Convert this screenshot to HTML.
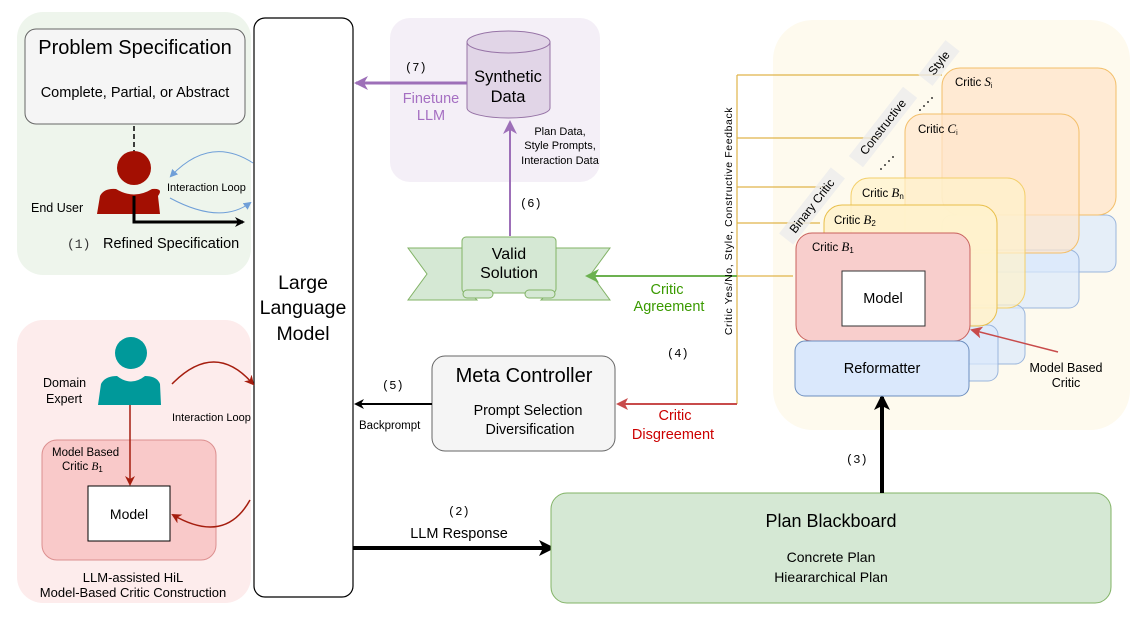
<!DOCTYPE html>
<html><head><meta charset="utf-8"><style>
html,body{margin:0;padding:0;background:#fff;}
svg{display:block;font-family:"Liberation Sans",sans-serif;}
.m{font-family:"Liberation Mono",monospace;}
</style></head><body>
<svg width="1138" height="637" viewBox="0 0 1138 637" xmlns="http://www.w3.org/2000/svg">
<defs>
<marker id="ab" markerWidth="10" markerHeight="10" refX="8" refY="5" orient="auto" markerUnits="userSpaceOnUse"><path d="M0,0 L10,5 L0,10 L3,5 Z" fill="#000"/></marker>
<marker id="abL" markerWidth="16" markerHeight="16" refX="13" refY="8" orient="auto" markerUnits="userSpaceOnUse"><path d="M0,0 L16,8 L0,16 L4,8 Z" fill="#000"/></marker>
<marker id="ap" markerWidth="14" markerHeight="14" refX="12" refY="7" orient="auto" markerUnits="userSpaceOnUse"><path d="M0,0 L14,7 L0,14 L4,7 Z" fill="#9d6fb8"/></marker>
<marker id="ag" markerWidth="14" markerHeight="14" refX="12" refY="7" orient="auto" markerUnits="userSpaceOnUse"><path d="M0,0 L14,7 L0,14 L4,7 Z" fill="#6cb150"/></marker>
<marker id="ar" markerWidth="12" markerHeight="12" refX="10" refY="6" orient="auto" markerUnits="userSpaceOnUse"><path d="M0,0 L12,6 L0,12 L3,6 Z" fill="#c84b4b"/></marker>
<marker id="ard" markerWidth="10" markerHeight="10" refX="8" refY="5" orient="auto" markerUnits="userSpaceOnUse"><path d="M0,0 L10,5 L0,10 L3,5 Z" fill="#a51d0e"/></marker>
<marker id="abl" markerWidth="8" markerHeight="8" refX="6" refY="4" orient="auto" markerUnits="userSpaceOnUse"><path d="M0,0 L8,4 L0,8 Z" fill="#6f9fd8"/></marker>
</defs>

<!-- panels -->
<rect x="17" y="12" width="234" height="263" rx="26" fill="#eef5ec"/>
<rect x="17" y="320" width="234" height="283" rx="26" fill="#fdecec"/>
<rect x="390" y="18" width="210" height="164" rx="20" fill="#f4eff7"/>
<rect x="773" y="20" width="357" height="410" rx="40" fill="#fefaee"/>

<!-- problem specification -->
<rect x="25" y="29" width="220" height="95" rx="11" fill="#f5f5f5" stroke="#666"/>
<text x="135" y="54" font-size="20" text-anchor="middle">Problem Specification</text>
<text x="135" y="97" font-size="14.5" text-anchor="middle">Complete, Partial, or Abstract</text>
<line x1="134" y1="126" x2="134" y2="152" stroke="#000" stroke-dasharray="5,3" stroke-width="1.5"/>
<!-- end user -->
<circle cx="134" cy="168" r="17" fill="#a30f02"/>
<path d="M97,214 L100,196 Q104,188 116,189 Q134,200 152,189 Q164,188 158,196 L160,214 Z" fill="#a30f02"/>
<path d="M134,196 L134,222 L243,222" fill="none" stroke="#000" stroke-width="3" marker-end="url(#ab)"/>
<text x="31" y="212" font-size="12.5">End User</text>
<text x="167" y="191" font-size="11">Interaction Loop</text>
<path d="M253,163 Q210,135 171,176" fill="none" stroke="#6f9fd8" marker-end="url(#abl)"/>
<path d="M170,198 Q220,225 250,203" fill="none" stroke="#6f9fd8" marker-end="url(#abl)"/>
<text x="67" y="248" font-size="13" class="m" fill="#333">(1)</text>
<text x="103" y="248" font-size="14.5">Refined Specification</text>

<!-- LLM -->
<rect x="254" y="18" width="99" height="579" rx="11" fill="#fff" stroke="#000" stroke-width="1.2"/>
<text x="303" y="289" font-size="19.5" text-anchor="middle">Large</text>
<text x="303" y="314" font-size="19.5" text-anchor="middle">Language</text>
<text x="303" y="340" font-size="19.5" text-anchor="middle">Model</text>

<!-- domain expert -->
<circle cx="131" cy="353" r="16" fill="#00999a"/>
<path d="M98,405 L101,384 Q105,376 117,376 Q131,387 145,376 Q157,376 160,384 L161,405 Z" fill="#00999a"/>
<text x="43" y="387" font-size="12.5">Domain</text>
<text x="46" y="403" font-size="12.5">Expert</text>
<rect x="42" y="440" width="174" height="120" rx="15" fill="#f9c9c9" stroke="#dc8f8f"/>
<text x="52" y="456" font-size="11.5">Model Based</text>
<text x="62" y="470" font-size="11.5">Critic <tspan font-family="Liberation Serif" font-style="italic">B</tspan><tspan font-size="8" dy="2">1</tspan></text>
<line x1="130" y1="405" x2="130" y2="484" stroke="#a51d0e" stroke-width="1.5" marker-end="url(#ard)"/>
<rect x="88" y="486" width="82" height="55" fill="#fff" stroke="#000"/>
<text x="129" y="519" font-size="14" text-anchor="middle">Model</text>
<path d="M172,384 Q215,340 253,384" fill="none" stroke="#a51d0e" stroke-width="1.5" marker-end="url(#ard)"/>
<text x="172" y="421" font-size="11">Interaction Loop</text>
<path d="M250,500 Q225,545 173,515" fill="none" stroke="#a51d0e" stroke-width="1.5" marker-end="url(#ard)"/>
<text x="133" y="582" font-size="13" text-anchor="middle">LLM-assisted HiL</text>
<text x="133" y="597" font-size="13" text-anchor="middle">Model-Based Critic Construction</text>

<!-- synthetic data -->
<path d="M467,42 L467,108 A41.5,10 0 0 0 550,108 L550,42" fill="#e1d5e7" stroke="#9673a6"/>
<ellipse cx="508.5" cy="42" rx="41.5" ry="11" fill="#e1d5e7" stroke="#9673a6"/>
<text x="508" y="82" font-size="16.5" text-anchor="middle">Synthetic</text>
<text x="508" y="102" font-size="16.5" text-anchor="middle">Data</text>
<line x1="467" y1="83" x2="356" y2="83" stroke="#9d6fb8" stroke-width="3" marker-end="url(#ap)"/>
<text x="405" y="71" font-size="12" class="m">(7)</text>
<text x="431" y="103" font-size="14.5" fill="#a56fc2" text-anchor="middle">Finetune</text>
<text x="431" y="120" font-size="14.5" fill="#a56fc2" text-anchor="middle">LLM</text>
<line x1="510" y1="236" x2="510" y2="122" stroke="#9d6fb8" stroke-width="2" marker-end="url(#ap)"/>
<text x="560" y="135" font-size="11" text-anchor="middle">Plan Data,</text>
<text x="560" y="149" font-size="11" text-anchor="middle">Style Prompts,</text>
<text x="560" y="164" font-size="11" text-anchor="middle">Interaction Data</text>
<text x="520" y="207" font-size="12" class="m">(6)</text>

<!-- valid solution ribbon -->
<path d="M408,248 L463,248 L463,286 L477,300 L408,300 L427,274 Z" fill="#d5e8d4" stroke="#82b366"/>
<path d="M610,248 L556,248 L556,286 L541,300 L610,300 L591,274 Z" fill="#d5e8d4" stroke="#82b366"/>
<rect x="462" y="237" width="94" height="56" rx="4" fill="#d5e8d4" stroke="#82b366"/>
<rect x="463" y="290" width="30" height="8" rx="4" fill="#d5e8d4" stroke="#82b366"/>
<rect x="525" y="290" width="30" height="8" rx="4" fill="#d5e8d4" stroke="#82b366"/>
<text x="509" y="259" font-size="16" text-anchor="middle">Valid</text>
<text x="509" y="278" font-size="16" text-anchor="middle">Solution</text>

<!-- critic feedback lines -->
<g stroke="#e0b54a" stroke-width="1.2" fill="none">
<line x1="737" y1="75" x2="942" y2="75"/>
<line x1="737" y1="138" x2="880" y2="138"/>
<line x1="737" y1="187" x2="826" y2="187"/>
<line x1="737" y1="223" x2="820" y2="223"/>
<line x1="737" y1="276" x2="793" y2="276"/>
<line x1="737" y1="75" x2="737" y2="404"/>
</g>
<line x1="737" y1="276" x2="587" y2="276" stroke="#6cb150" stroke-width="2" marker-end="url(#ag)"/>
<text x="667" y="294" font-size="14.5" fill="#3a9a00" text-anchor="middle">Critic</text>
<text x="669" y="311" font-size="14.5" fill="#3a9a00" text-anchor="middle">Agreement</text>
<line x1="737" y1="404" x2="618" y2="404" stroke="#c84b4b" stroke-width="2" marker-end="url(#ar)"/>
<text x="675" y="420" font-size="14.5" fill="#c00" text-anchor="middle">Critic</text>
<text x="673" y="439" font-size="14.5" fill="#c00" text-anchor="middle">Disgreement</text>
<text x="667" y="357" font-size="12" class="m">(4)</text>
<text transform="translate(732,221) rotate(-90)" font-size="10.5" text-anchor="middle" letter-spacing="0.6">Critic Yes/No, Style, Constructive Feedback</text>

<!-- meta controller -->
<rect x="432" y="356" width="183" height="95" rx="13" fill="#f5f5f5" stroke="#666"/>
<text x="524" y="382" font-size="20" text-anchor="middle">Meta Controller</text>
<text x="528" y="415" font-size="14.3" text-anchor="middle">Prompt Selection</text>
<text x="530" y="434" font-size="14.3" text-anchor="middle">Diversification</text>
<line x1="432" y1="404" x2="356" y2="404" stroke="#000" stroke-width="2" marker-end="url(#ab)"/>
<text x="382" y="389" font-size="12" class="m">(5)</text>
<text x="359" y="429" font-size="11.5">Backprompt</text>

<!-- LLM response -->
<line x1="353" y1="548" x2="552" y2="548" stroke="#000" stroke-width="4" marker-end="url(#abL)"/>
<text x="448" y="515" font-size="12" class="m">(2)</text>
<text x="459" y="538" font-size="14.5" text-anchor="middle">LLM Response</text>

<!-- plan blackboard -->
<rect x="551" y="493" width="560" height="110" rx="16" fill="#d5e8d4" stroke="#82b366"/>
<text x="831" y="527" font-size="18" text-anchor="middle">Plan Blackboard</text>
<text x="831" y="562" font-size="14" text-anchor="middle">Concrete Plan</text>
<text x="831" y="582" font-size="14" text-anchor="middle">Hieararchical Plan</text>
<line x1="882" y1="493" x2="882" y2="397" stroke="#000" stroke-width="4" marker-end="url(#abL)"/>
<text x="846" y="463" font-size="12" class="m">(3)</text>

<!-- critic stacks -->
<g stroke-width="1">
<rect x="942" y="215" width="174" height="57" rx="10" fill="#dae8fc" fill-opacity="0.7" stroke="#9ab5dc"/>
<rect x="905" y="250" width="174" height="58" rx="10" fill="#dae8fc" fill-opacity="0.7" stroke="#9ab5dc"/>
<rect x="851" y="305" width="174" height="59" rx="10" fill="#dae8fc" fill-opacity="0.7" stroke="#9ab5dc"/>
<rect x="824" y="325" width="174" height="56" rx="10" fill="#dae8fc" fill-opacity="0.7" stroke="#9ab5dc"/>
<rect x="942" y="68" width="174" height="147" rx="18" fill="#ffe6cc" fill-opacity="0.8" stroke="#f3bf6a"/>
<rect x="905" y="114" width="174" height="139" rx="18" fill="#ffe6cc" fill-opacity="0.7" stroke="#f3bf6a"/>
<rect x="851" y="178" width="174" height="130" rx="18" fill="#fff2cc" fill-opacity="0.7" stroke="#f3cf6a"/>
<rect x="824" y="205" width="173" height="121" rx="18" fill="#fff2cc" fill-opacity="0.9" stroke="#e8bf4a"/>
<rect x="796" y="233" width="174" height="108" rx="16" fill="#f8cecc" stroke="#c8605c"/>
<rect x="795" y="341" width="174" height="55" rx="10" fill="#dae8fc" stroke="#6c8ebf"/>
</g>
<text x="955" y="86" font-size="11.5">Critic <tspan font-family="Liberation Serif" font-style="italic" font-size="13">S</tspan><tspan font-size="7" dy="2">i</tspan></text>
<text x="918" y="133" font-size="11.5">Critic <tspan font-family="Liberation Serif" font-style="italic" font-size="13">C</tspan><tspan font-size="7" dy="2">i</tspan></text>
<text x="862" y="197" font-size="11.5">Critic <tspan font-family="Liberation Serif" font-style="italic" font-size="13">B</tspan><tspan font-size="8" dy="2">n</tspan></text>
<text x="834" y="224" font-size="11.5">Critic <tspan font-family="Liberation Serif" font-style="italic" font-size="13">B</tspan><tspan font-size="8" dy="2">2</tspan></text>
<text x="812" y="251" font-size="11.5">Critic <tspan font-family="Liberation Serif" font-style="italic" font-size="13">B</tspan><tspan font-size="8" dy="2">1</tspan></text>
<rect x="842" y="271" width="83" height="55" fill="#fff" stroke="#333"/>
<text x="883" y="303" font-size="14.5" text-anchor="middle">Model</text>
<text x="882" y="373" font-size="14.5" text-anchor="middle">Reformatter</text>
<line x1="1058" y1="352" x2="972" y2="330" stroke="#c84b4b" stroke-width="1.5" marker-end="url(#ar)"/>
<text x="1066" y="372" font-size="12.5" text-anchor="middle">Model Based</text>
<text x="1066" y="387" font-size="12.5" text-anchor="middle">Critic</text>

<!-- rotated category labels -->
<g transform="translate(812,206) rotate(-52)"><rect x="-42" y="-9" width="84" height="18" fill="#ececec" fill-opacity="0.8"/><text x="0" y="4" font-size="12" text-anchor="middle">Binary Critic</text></g>
<g transform="translate(883,127) rotate(-52)"><rect x="-44" y="-9" width="88" height="18" fill="#ececec" fill-opacity="0.8"/><text x="0" y="4" font-size="12" text-anchor="middle">Constructive</text></g>
<g transform="translate(939,63) rotate(-52)"><rect x="-22" y="-9" width="44" height="18" fill="#ececec" fill-opacity="0.8"/><text x="0" y="4" font-size="12" text-anchor="middle">Style</text></g>
<g fill="#000">
<circle cx="881" cy="169" r="0.9"/><circle cx="885" cy="165" r="0.9"/><circle cx="889" cy="161" r="0.9"/><circle cx="893" cy="157" r="0.9"/>
<circle cx="920" cy="110" r="0.9"/><circle cx="924" cy="106" r="0.9"/><circle cx="928" cy="102" r="0.9"/><circle cx="932" cy="98" r="0.9"/>
</g>
</svg>
</body></html>
